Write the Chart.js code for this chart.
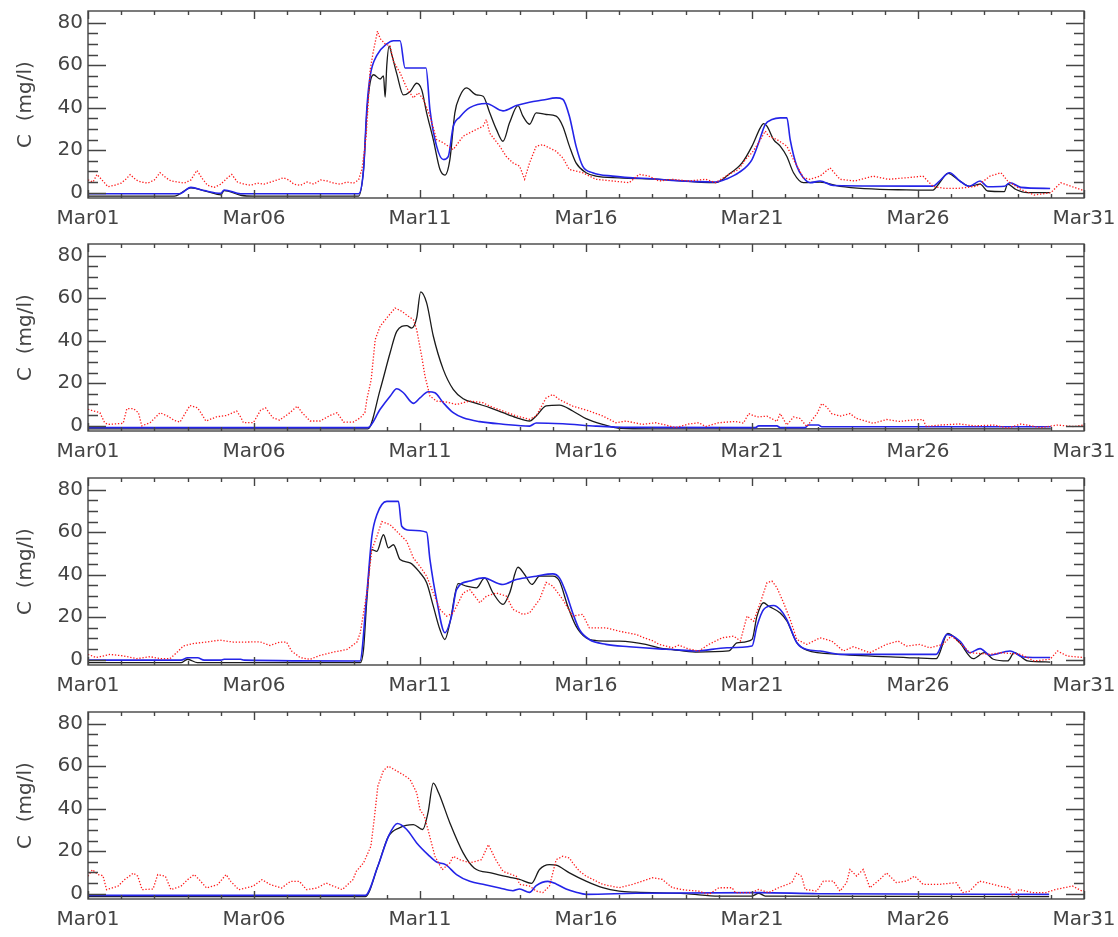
<!DOCTYPE html>
<html>
<head>
<meta charset="utf-8">
<script src="https://cdn.jsdelivr.net/npm/chart.js@4/dist/chart.umd.min.js"></script>
<style>
  html, body { margin: 0; padding: 0; background: #fff; }
  #wrap { position: relative; width: 1118px; height: 937px; }
  canvas { position: absolute; left: 0; }
</style>
</head>
<body>
<div id="wrap">
  <canvas id="c1" width="1118" height="234" style="top:0px"></canvas>
  <canvas id="c2" width="1118" height="234" style="top:233px"></canvas>
  <canvas id="c3" width="1118" height="234" style="top:467px"></canvas>
  <canvas id="c4" width="1118" height="234" style="top:701px"></canvas>
</div>
<script>
// x = days since Mar01 00:00, y = concentration in mg/l
const xTicks = [0, 5, 10, 15, 20, 25, 30];
const xTickLabels = ['Mar01', 'Mar06', 'Mar11', 'Mar16', 'Mar21', 'Mar26', 'Mar31'];
const yTicks = [0, 20, 40, 60, 80];

// panel 1
const p1Red = [[0,6],[0.15,5],[0.27,8.6],[0.45,5.5],[0.6,2.8],[0.8,3.5],[1.0,4.5],[1.15,6.5],[1.27,8.5],[1.45,6],[1.6,5],[1.8,4.5],[2.0,6],[2.17,9.4],[2.35,7],[2.5,5.5],[2.7,5],[2.9,4.5],[3.1,6],[3.28,10.5],[3.45,6.5],[3.6,3.5],[3.8,2.5],[4.0,4],[4.2,7],[4.33,8.6],[4.5,5],[4.7,4],[4.9,3.5],[5.1,4.5],[5.3,4],[5.5,5],[5.7,6],[5.88,7],[6.05,6],[6.2,4],[6.4,3.5],[6.6,5],[6.8,4],[7.0,6],[7.2,5.5],[7.4,4.5],[7.6,4],[7.8,5],[8.0,4.5],[8.15,6],[8.25,11],[8.32,19],[8.38,27],[8.45,45],[8.5,58],[8.6,67],[8.72,76],[8.8,72.5],[8.95,70],[9.1,69],[9.2,61.8],[9.4,56.4],[9.6,49.3],[9.8,44.6],[9.95,47],[10.1,44],[10.3,36],[10.5,25],[10.7,23.5],[11.0,20.3],[11.3,26.6],[11.6,29],[11.9,31.3],[12.0,34.4],[12.1,28],[12.4,21.9],[12.6,17],[12.8,14],[13.0,12.5],[13.15,6.3],[13.3,14],[13.5,21.9],[13.7,22.6],[14.1,19.5],[14.3,16.4],[14.5,10.9],[14.9,9.4],[15.3,6.3],[15.8,5.5],[16.3,4.7],[16.6,8.6],[16.9,7.8],[17.2,5.5],[17.6,6.3],[18.1,5.5],[18.6,6.3],[18.9,4.7],[19.3,8.6],[19.6,11],[19.8,15.6],[20.0,18.8],[20.2,23.5],[20.4,29],[20.5,26.6],[20.75,25],[21.05,21.9],[21.25,15.6],[21.55,7],[21.75,6.3],[22.05,7.8],[22.35,11.7],[22.65,6.3],[23.1,5.5],[23.65,7.8],[24.1,6.3],[24.65,7],[25.15,7.8],[25.45,3],[25.8,2],[26.2,2],[26.77,3],[27.17,7.8],[27.5,9.4],[27.7,5.5],[28.1,1.5],[28.5,-1.1],[29,0],[29.3,4.7],[29.7,2.5],[30,1]];
const p1Blue = [[0,-0.5],[2.75,-0.5],[3.1,2.5],[3.5,1],[4.0,-0.3],[4.1,1.3],[4.6,-0.5],[8.15,-0.5],[8.3,11],[8.4,40],[8.5,55],[8.7,64.6],[9.0,70],[9.2,71.5],[9.4,71.5],[9.55,58.7],[10.18,58.7],[10.3,39],[10.5,21.9],[10.7,15.6],[10.85,17],[11.0,31],[11.2,35.6],[11.5,40],[12.0,42],[12.5,38.5],[12.9,41],[13.3,42.6],[13.7,43.6],[14.1,44.6],[14.3,44],[14.5,36],[14.7,21.9],[14.9,12.5],[15.2,9.4],[15.8,7.8],[17.2,6.3],[17.6,5.8],[18.9,5],[19.25,6.6],[19.6,9.4],[20.0,15.6],[20.2,23.5],[20.4,32.1],[20.6,34.4],[20.85,35.2],[21.05,35.2],[21.15,25],[21.35,12.5],[21.55,7],[21.75,4.7],[22.05,5.5],[22.45,3.4],[25.45,3.1],[25.65,5.5],[25.95,9.4],[26.26,5.5],[26.55,3],[26.87,5.5],[27.1,2.8],[27.6,3],[27.77,4.7],[28.1,2.5],[28.98,2]];
const p1Black = [[0,-1.6],[2.6,-1.6],[3.1,2.3],[3.6,0.5],[4.0,-1.0],[4.1,1.0],[4.6,-1.2],[5.0,-1.6],[8.15,-1.6],[8.3,11],[8.4,38],[8.5,52],[8.6,55.5],[8.8,53.5],[8.9,55],[8.95,45],[9.0,60],[9.07,69],[9.15,65],[9.3,56],[9.5,46],[9.7,47.5],[9.9,51.5],[10.05,48.5],[10.2,37.6],[10.4,25],[10.6,11],[10.75,8.3],[10.9,15.6],[11.05,37.6],[11.2,45.4],[11.4,49.3],[11.7,46],[11.9,45.4],[12.1,37.6],[12.3,29.8],[12.5,24.2],[12.7,33],[12.95,41],[13.1,36],[13.3,32.2],[13.5,37.6],[13.8,36.8],[14.1,36],[14.3,31.3],[14.5,21.9],[14.7,14],[15.0,9.4],[15.3,7.8],[16,7],[17.2,6.3],[18.9,4.7],[19.3,8.6],[19.7,14],[20.0,21.9],[20.25,30.5],[20.35,32.5],[20.45,31.3],[20.65,25],[20.85,21.9],[21.05,17],[21.25,9.4],[21.55,4.7],[22.05,5],[22.65,3],[24.65,1.3],[25.45,1.2],[25.65,4.7],[25.9,9.1],[26.26,5.5],[26.55,3],[26.87,4],[27.1,0.8],[27.6,0.5],[27.7,4],[27.95,1.5],[28.3,0],[28.98,0]];

// panel 2
const p2Red = [[0,7.7],[0.36,6.1],[0.5,1.4],[0.6,0.6],[1.06,1.1],[1.17,8],[1.37,8],[1.52,6.1],[1.62,-0.1],[1.87,1.4],[2.17,6.1],[2.4,4.5],[2.6,2.5],[2.77,1.7],[3.07,9.5],[3.3,8.4],[3.4,6.1],[3.55,2.2],[3.88,4.2],[4.18,4.8],[4.48,6.9],[4.6,4],[4.68,1.4],[4.98,1.4],[5.2,7.3],[5.35,8.4],[5.57,3.7],[5.77,2.6],[6.08,6.1],[6.3,9.2],[6.45,6.1],[6.69,2.2],[6.99,2.2],[7.29,4.8],[7.5,6.1],[7.7,1.7],[7.99,1.7],[8.2,3.7],[8.34,6.1],[8.4,12.4],[8.53,21.7],[8.65,40.5],[8.8,46.8],[9.0,50.7],[9.25,55.4],[9.45,53.8],[9.65,51.5],[9.8,49.9],[9.9,45.2],[10.05,32.7],[10.15,23.3],[10.3,13.9],[10.5,11.6],[10.8,11.1],[11.1,10],[11.5,11.6],[11.9,10.8],[12.1,9.2],[12.5,6.9],[12.9,4.6],[13.3,3],[13.5,4.6],[13.8,13.1],[14.0,14.7],[14.2,12.3],[14.6,9.2],[15.1,6.9],[15.5,4.6],[15.9,1.4],[16.2,2.2],[16.7,0.6],[17.1,1.4],[17.4,0.3],[17.7,-0.9],[18.1,0.8],[18.4,1.4],[18.6,-0.4],[19.0,1.4],[19.5,2],[19.74,1.2],[19.9,5.7],[20.15,4.1],[20.45,4.5],[20.75,2],[20.85,5.7],[21.05,0.3],[21.25,4.1],[21.45,3.4],[21.65,-0.4],[21.96,5.7],[22.1,10.4],[22.25,8.8],[22.4,5.7],[22.65,4.5],[22.95,5.7],[23.15,3.4],[23.65,1.1],[24.05,2.9],[24.45,2],[24.85,2.7],[25.15,2.9],[25.25,-0.4],[25.65,0.3],[26.25,0.8],[26.7,-0.1],[27.3,0.3],[27.7,-1.2],[28.1,0.8],[28.7,-0.9],[29.2,0.3],[29.7,-0.4],[30,0.3]];
const p2Blue = [[0,-0.9],[8.43,-0.9],[8.8,7.7],[9.1,13.8],[9.3,17.4],[9.5,15.5],[9.8,10.5],[10.0,13.1],[10.25,16],[10.45,15.5],[10.7,10.8],[11.0,6.1],[11.3,3.7],[11.8,1.9],[12.5,0.7],[13.3,-0.2],[13.5,1.3],[14.3,0.9],[15.3,-0.2],[16.3,-0.8],[20.1,-0.9],[20.2,-0.1],[20.75,-0.1],[20.85,-0.9],[21.6,-0.9],[21.7,0.3],[22.0,0.3],[22.1,-0.5],[29,-0.5]];
const p2Black = [[0,-1.5],[8.43,-1.5],[8.8,17],[9.1,34.3],[9.3,44.4],[9.6,47.1],[9.75,45.9],[9.9,50.7],[10.02,63],[10.2,57.8],[10.4,42.2],[10.7,26.5],[11.0,17.1],[11.3,12.7],[11.7,10.5],[12.1,8.5],[12.5,6.1],[12.9,3.8],[13.3,2.2],[13.5,4.6],[13.8,9.3],[14.2,9.7],[14.6,6.9],[15.0,3.3],[15.5,0.6],[16.0,-1.2],[17,-1.5],[29,-1.5]];

// panel 3
const p3Red = [[0,2.5],[0.25,1],[0.66,2.5],[1.06,1.8],[1.47,0.5],[1.87,1.4],[2.17,0.5],[2.47,0.5],[2.67,3.3],[2.87,6.4],[3.17,7.6],[3.57,8.3],[3.97,9.2],[4.37,8.3],[4.77,8.3],[5.18,8.4],[5.48,6.7],[5.78,8.3],[5.98,8.3],[6.13,4.1],[6.39,1],[6.69,0.2],[6.99,2],[7.4,3.6],[7.8,4.8],[8.1,8.3],[8.2,12.6],[8.3,22],[8.4,31.4],[8.55,51.8],[8.7,58],[8.85,65],[9.1,63.5],[9.3,60.4],[9.6,55.7],[9.8,47.9],[10.0,43.9],[10.2,39.3],[10.4,31.4],[10.6,23.7],[10.8,20.5],[11.0,22],[11.3,31.4],[11.5,33],[11.8,26.8],[12.0,29.9],[12.3,31.4],[12.6,29.9],[12.8,23.7],[13.1,21.3],[13.3,22],[13.6,28.3],[13.8,36.4],[14.0,34.6],[14.3,28.3],[14.6,20.5],[14.9,21.3],[15.1,15],[15.6,15],[16.0,13.4],[16.5,11.9],[16.75,10.3],[17.0,9],[17.2,7.2],[17.6,5.6],[17.8,6.8],[18.1,5],[18.4,4.1],[18.7,7.2],[19.1,10.3],[19.45,11.1],[19.65,8.8],[19.85,20.5],[20.05,18.1],[20.25,26.8],[20.45,36.2],[20.6,37],[20.75,33.9],[20.95,26.8],[21.15,18.9],[21.35,9.5],[21.65,7.2],[22.05,10.3],[22.4,8.8],[22.75,4.1],[23.05,6.1],[23.55,3.3],[24.05,7.2],[24.4,8.8],[24.65,6.4],[25.05,7.2],[25.35,5.6],[25.75,7.2],[26.0,11.1],[26.26,8],[26.56,3.3],[27.17,2.5],[27.5,3.3],[28.1,2.5],[28.5,-0.6],[28.98,0.2],[29.2,4.1],[29.5,1.7],[30,1]];
const p3Blue = [[0,-0.2],[2.8,-0.2],[3.0,0.9],[3.3,0.9],[3.5,-0.2],[4.0,-0.2],[4.1,0.2],[4.6,0.2],[4.7,-0.2],[8.19,-0.6],[8.4,31.4],[8.55,58],[8.7,68.2],[9.0,74.5],[9.35,74.5],[9.45,62.8],[9.7,60.9],[10.2,60],[10.3,47.1],[10.5,28.3],[10.75,12.7],[10.95,20.5],[11.1,33],[11.5,37],[11.9,38.5],[12.5,35.4],[12.9,37.7],[13.5,39.3],[14.0,40.4],[14.2,38.5],[14.4,31.4],[14.6,22],[14.8,14.2],[15.1,9.5],[15.6,7.2],[16.3,6.1],[17.2,5.1],[17.6,4.8],[18.3,4.1],[19.25,5.6],[20.0,6.4],[20.15,15.8],[20.35,23.6],[20.65,25.5],[20.85,23.6],[21.05,18.9],[21.35,8],[21.65,4.8],[22.05,4.1],[22.65,2.5],[25.55,2.5],[25.87,11.9],[26.26,8.8],[26.56,3.3],[26.87,5.2],[27.17,2.1],[27.77,4.1],[28.17,1.3],[28.98,1]];
const p3Black = [[0,-1.4],[2.8,-1.4],[3.0,0.2],[3.3,-1.4],[8.2,-1.4],[8.3,5],[8.4,28.3],[8.55,51.8],[8.7,51],[8.9,58.8],[9.05,52.6],[9.2,54.1],[9.4,47.1],[9.7,45.6],[10.0,40.9],[10.2,36.2],[10.4,25.2],[10.6,14.2],[10.75,9.5],[10.9,17.3],[11.15,35.8],[11.4,34.6],[11.7,33.8],[11.95,38.5],[12.2,31.4],[12.5,26],[12.7,31.4],[12.95,43.5],[13.15,40.1],[13.37,35.4],[13.6,39.3],[14.0,39.3],[14.2,37],[14.45,25.2],[14.7,15.8],[15.0,10.3],[15.3,9],[16.0,8.7],[16.8,7.2],[17.2,5.6],[17.6,4.8],[18.3,3.6],[19.3,4.1],[19.55,7.9],[20.0,9.5],[20.15,20.5],[20.35,26.8],[20.5,25.2],[20.85,22],[21.05,18.2],[21.35,8],[21.65,4.5],[22.65,2.5],[24.65,1],[25.55,0.5],[25.9,12.4],[26.26,7.9],[26.66,0.5],[27.0,3.3],[27.27,0.2],[27.7,-0.6],[27.9,3.3],[28.3,-0.6],[28.98,-1.1]];

// panel 4
const p4Red = [[0,8.2],[0.13,11.3],[0.3,9],[0.45,8.5],[0.56,1.9],[0.9,3.5],[1.1,6.6],[1.37,9.7],[1.5,8.2],[1.63,1.9],[1.96,2.2],[2.1,9],[2.33,8.2],[2.5,1.9],[2.8,3.5],[3.0,6.6],[3.2,9],[3.35,6.6],[3.57,2.7],[3.9,4.2],[4.16,9],[4.3,5.8],[4.54,1.9],[4.97,3.5],[5.24,6.6],[5.5,4.2],[5.83,2.7],[6.1,5.8],[6.37,5.8],[6.58,1.9],[6.9,2.7],[7.17,5],[7.4,3.5],[7.66,1.9],[7.98,6.6],[8.08,10.5],[8.3,14.5],[8.52,22.3],[8.62,34.9],[8.73,50.6],[8.9,58],[9.05,60],[9.27,58],[9.48,56.1],[9.7,53.8],[9.9,47.5],[10.0,39.6],[10.13,36.5],[10.24,30.2],[10.45,17.6],[10.67,11.3],[10.9,14.5],[11.0,17.6],[11.2,16],[11.5,14.5],[11.85,16],[12.06,23.1],[12.28,16],[12.5,10.5],[12.9,8.2],[13.0,4.4],[13.3,3.6],[13.5,1.2],[13.7,0.5],[13.9,3.6],[14.0,9.8],[14.1,16],[14.3,17.6],[14.5,16.8],[14.6,14.5],[14.8,10.6],[15.0,8.3],[15.5,4.4],[16.0,2.8],[16.4,4.4],[16.7,5.9],[17.0,7.5],[17.3,6.7],[17.6,2.8],[18.0,1.7],[18.4,1.2],[18.7,-0.3],[19.0,2.8],[19.4,2.8],[19.5,0.5],[20.0,0.5],[20.2,2],[20.5,0.5],[20.8,2.8],[21.2,5.2],[21.35,9.8],[21.5,8],[21.6,2],[21.95,1.2],[22.15,5.9],[22.45,5.9],[22.65,1.2],[22.85,5.2],[22.95,11.4],[23.15,8.3],[23.35,11.4],[23.55,2.8],[23.85,6.7],[24.05,9.8],[24.35,5.2],[24.65,5.9],[24.9,8.3],[25.15,4.4],[25.65,4.4],[26.15,5.2],[26.35,0.5],[26.55,1.2],[26.85,5.9],[27.05,5.2],[27.45,3.6],[27.75,2.8],[27.85,-1],[28.05,2],[28.45,0.5],[28.85,0.5],[29.15,2],[29.65,3.6],[29.95,1.2],[30,1.5]];
const p4Blue = [[0,-0.8],[8.35,-0.8],[8.73,12.9],[9.05,27],[9.32,33],[9.6,30.2],[9.9,23.9],[10.24,18.4],[10.5,14.9],[10.77,13.7],[11.1,9],[11.5,5.8],[11.96,4.2],[12.4,2.7],[12.8,1.4],[13.0,2.2],[13.3,0.6],[13.5,3.8],[13.85,5.8],[14.1,4.6],[14.4,2.2],[14.7,0.7],[15.0,-0.3],[16.5,0.2],[20.2,0.5],[22,0],[28.95,-0.3]];
const p4Black = [[0,-1.4],[8.35,-1.4],[8.73,12.9],[9.05,27],[9.38,31],[9.8,32.5],[10.08,30.2],[10.24,38],[10.4,52],[10.56,47.5],[10.9,33.3],[11.3,19.2],[11.63,12.1],[12.17,9.7],[12.8,7.4],[13.0,6.7],[13.36,4.9],[13.6,11.4],[13.9,13.7],[14.1,13.4],[14.5,9.8],[15.0,5.9],[15.5,2.8],[16.0,1.2],[16.5,0.7],[18.0,0],[19.0,-1.1],[20.0,-1.1],[20.2,0.2],[20.4,-1.1],[28.95,-1.4]];

const FONT = 'DejaVu Sans';
const INK = '#444444';

const toXY = arr => arr.map(p => ({x: p[0], y: p[1]}));

// box frame and inward ticks on all four sides
const frameTicks = {
  id: 'frameTicks',
  afterDatasetsDraw(chart) {
    const {ctx, chartArea: a, scales: {x, y}} = chart;
    ctx.save();
    ctx.strokeStyle = INK;
    ctx.lineWidth = 1.4;
    ctx.strokeRect(a.left, a.top, a.right - a.left, a.bottom - a.top);
    ctx.beginPath();
    for (let v = 0; v <= 80; v += 5) {
      const py = Math.round(y.getPixelForValue(v)) + 0.5;
      const len = v % 20 === 0 ? 18 : 10;
      ctx.moveTo(a.left, py); ctx.lineTo(a.left + len, py);
      ctx.moveTo(a.right, py); ctx.lineTo(a.right - len, py);
    }
    for (let d = 0; d <= 30; d++) {
      const px = Math.round(x.getPixelForValue(d)) + 0.5;
      const len = d % 5 === 0 ? 8 : 4;
      ctx.moveTo(px, a.bottom); ctx.lineTo(px, a.bottom - len);
      ctx.moveTo(px, a.top); ctx.lineTo(px, a.top + len);
    }
    ctx.stroke();
    ctx.restore();
  }
};

function makePanel(id, red, blue, black) {
  new Chart(document.getElementById(id), {
    type: 'line',
    data: {
      datasets: [
        {
          data: toXY(red),
          borderColor: '#ff1a1a',
          borderWidth: 1.3,
          borderDash: [1.3, 1.8],
          pointRadius: 0,
          tension: 0
        },
        {
          data: toXY(blue),
          borderColor: '#2424e8',
          borderWidth: 1.6,
          pointRadius: 0,
          cubicInterpolationMode: 'monotone'
        },
        {
          data: toXY(black),
          borderColor: '#1a1a1a',
          borderWidth: 1.3,
          pointRadius: 0,
          cubicInterpolationMode: 'monotone'
        }
      ]
    },
    options: {
      responsive: false,
      animation: false,
      devicePixelRatio: 1,
      layout: { padding: { left: 0, right: 34, top: 11, bottom: 0 } },
      plugins: { legend: { display: false }, tooltip: { enabled: false } },
      scales: {
        x: {
          type: 'linear',
          min: 0,
          max: 30,
          grid: { display: false, drawTicks: false },
          border: { display: false },
          afterBuildTicks: s => { s.ticks = xTicks.map(v => ({value: v})); },
          afterFit: s => { s.height = 36; s.paddingRight = 0; s.paddingLeft = 0; },
          ticks: {
            autoSkip: false,
            maxRotation: 0,
            padding: 9,
            color: INK,
            font: { family: FONT, size: 20 },
            callback: v => xTickLabels[xTicks.indexOf(v)]
          }
        },
        y: {
          min: -2.5,
          max: 85.5,
          grid: { display: false, drawTicks: false },
          border: { display: false },
          afterBuildTicks: s => { s.ticks = yTicks.map(v => ({value: v})); },
          afterFit: s => { s.width = 88; s.paddingTop = 0; s.paddingBottom = 0; },
          ticks: {
            padding: 5,
            color: INK,
            font: { family: FONT, size: 20 }
          },
          title: {
            display: true,
            text: 'C  (mg/l)',
            color: INK,
            font: { family: FONT, size: 20 },
            padding: { top: 14, bottom: 0 }
          }
        }
      }
    },
    plugins: [frameTicks]
  });
}

makePanel('c1', p1Red, p1Blue, p1Black);
makePanel('c2', p2Red, p2Blue, p2Black);
makePanel('c3', p3Red, p3Blue, p3Black);
makePanel('c4', p4Red, p4Blue, p4Black);
</script>
</body>
</html>
